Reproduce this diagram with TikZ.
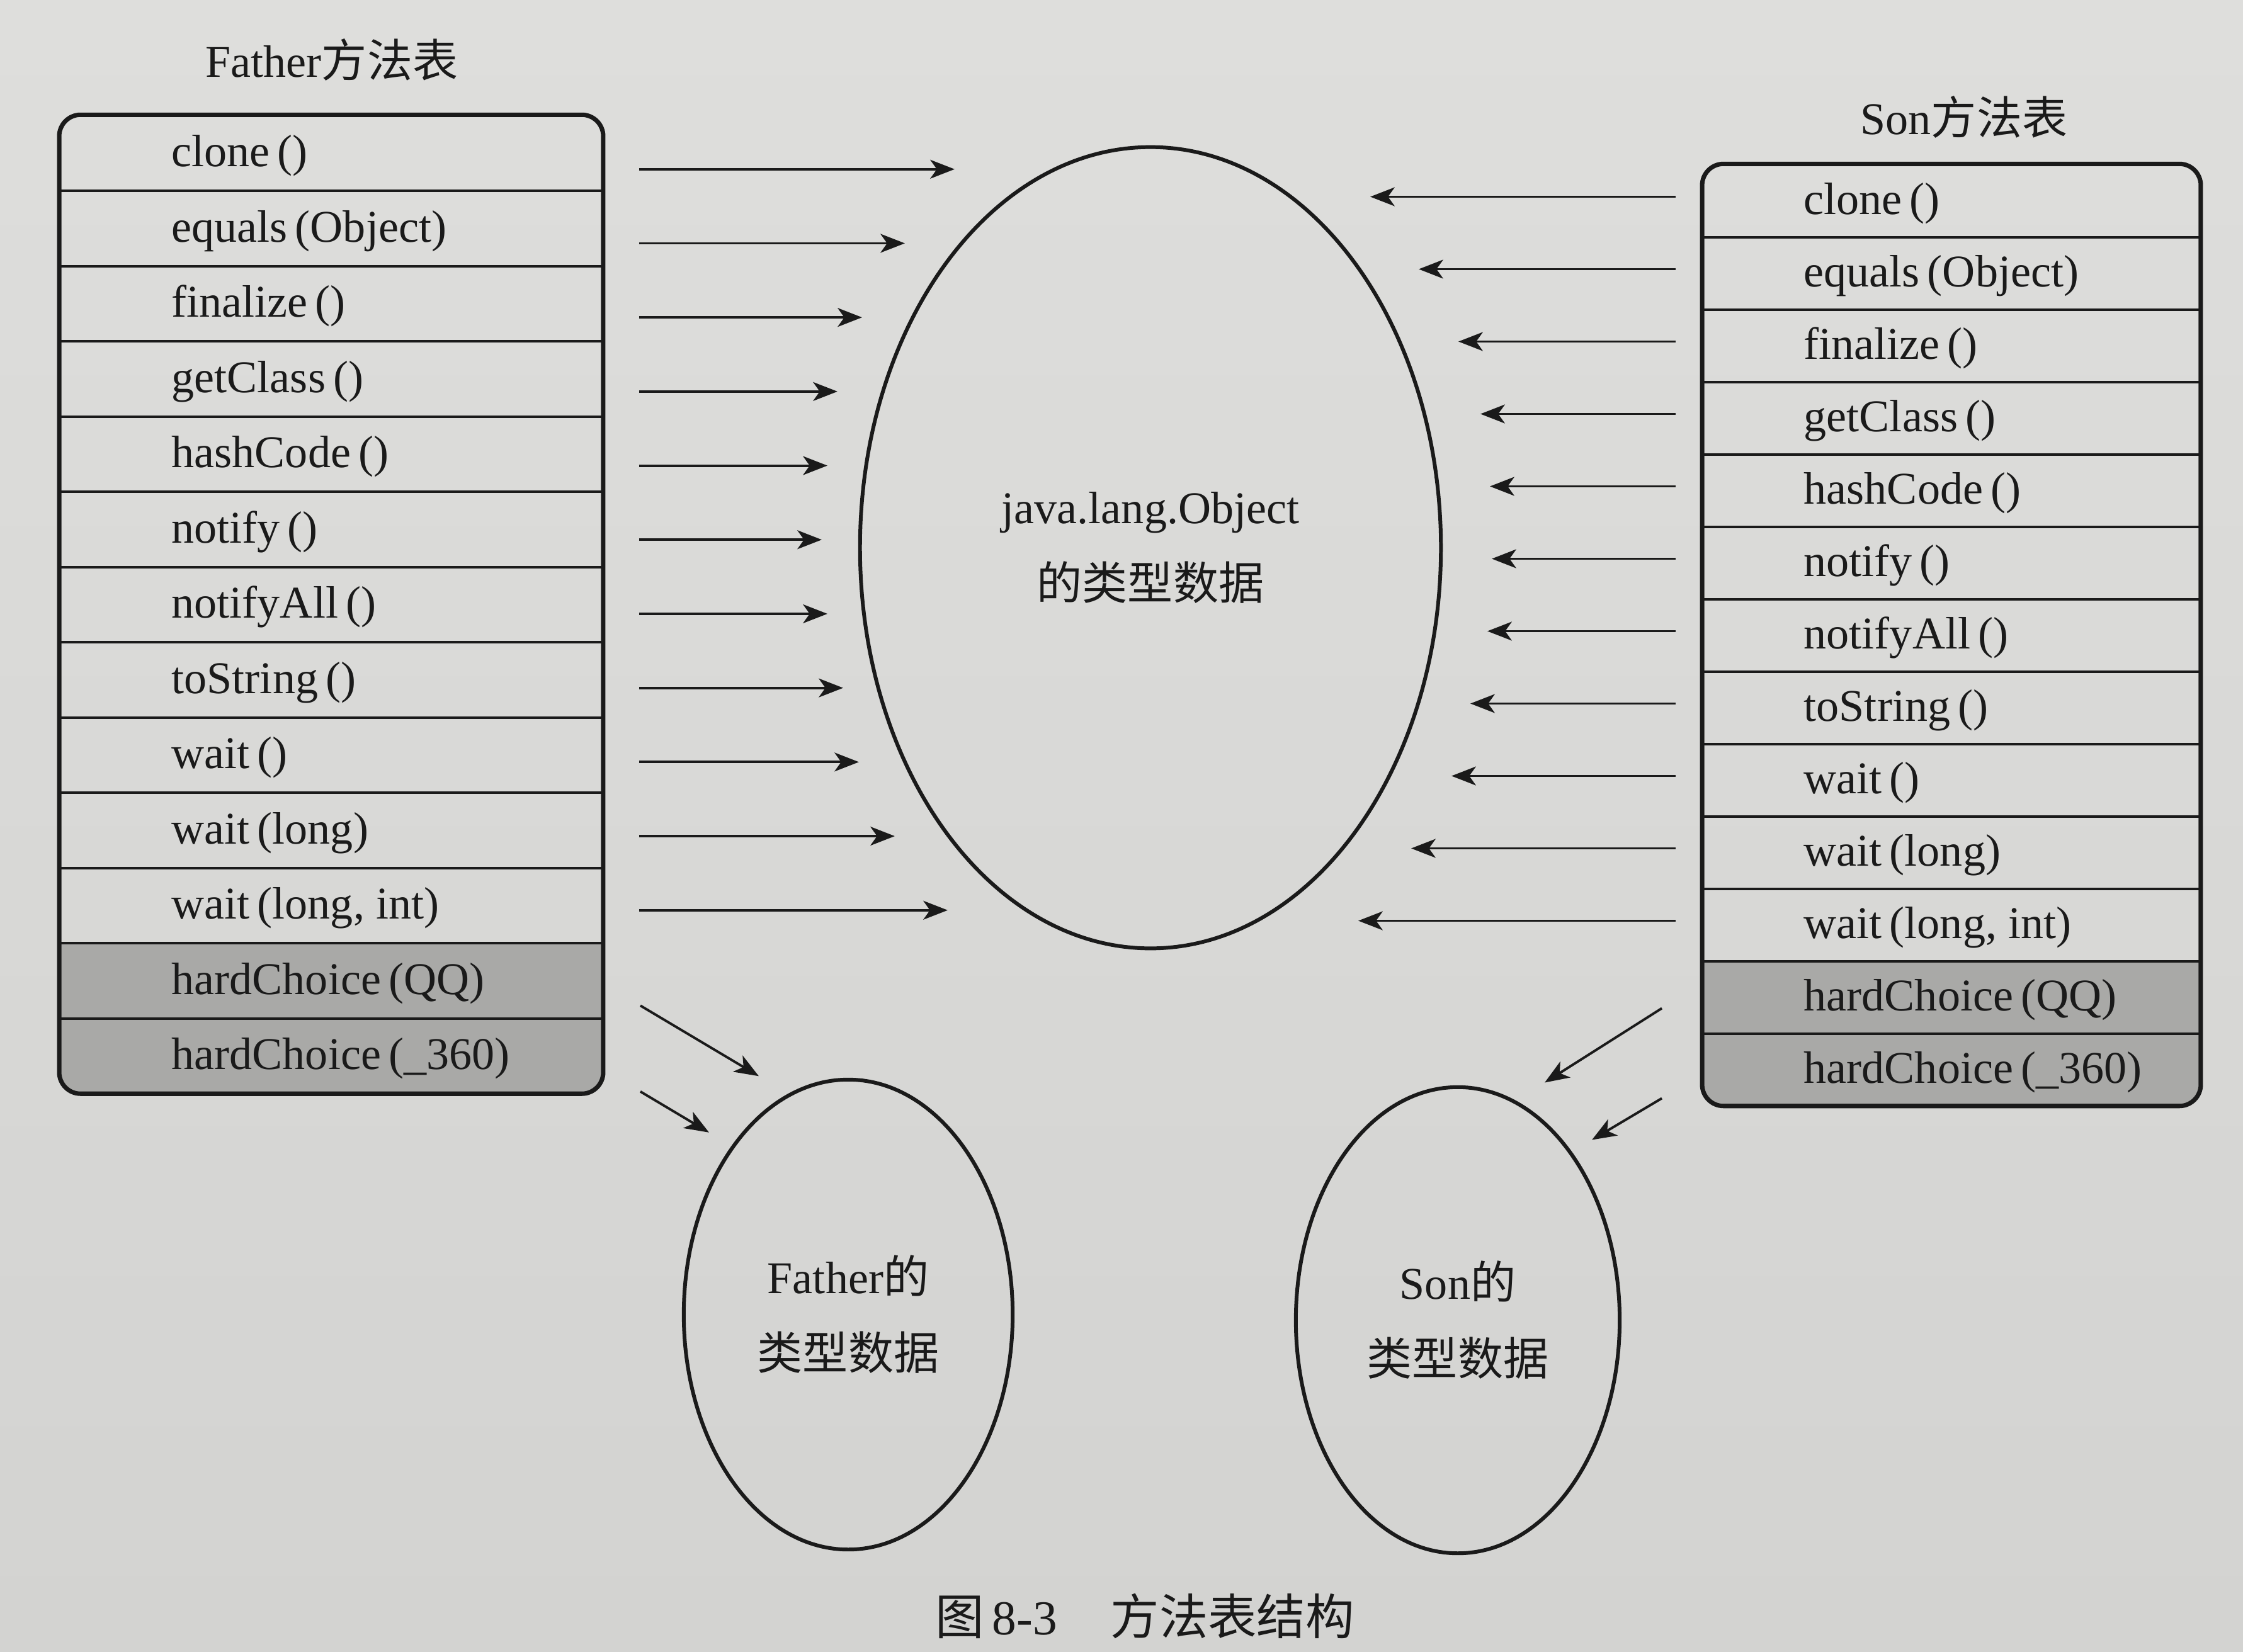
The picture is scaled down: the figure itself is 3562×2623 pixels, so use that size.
\documentclass[tikz,border=0pt]{standalone}
\usepackage{fontspec}
\setmainfont{Liberation Serif}
\newfontfamily\cjk{Noto Sans CJK SC}
\usetikzlibrary{arrows.meta,calc,shapes.geometric}
\definecolor{paperT}{HTML}{DEDEDC}
\definecolor{paperB}{HTML}{D3D3D1}
\definecolor{inkc}{HTML}{1A1A1A}
\definecolor{shadec}{HTML}{A9A9A7}
\begin{document}
\begin{tikzpicture}[x=0.01cm,y=-0.01cm,
  rowF/.style={minimum width=8.62cm,minimum height=1.195cm,inner sep=0pt,draw=none},
  rowS/.style={minimum width=7.90cm,minimum height=1.15cm,inner sep=0pt,draw=none},
  meth/.style={anchor=base west,inner sep=0pt,text=inkc,font=\fontsize{20.5}{24}\selectfont},
  sepline/.style={draw=inkc,line width=1.2pt},
  outline/.style={draw=inkc,line width=2pt,rounded corners=0.34cm},
  arr/.style={draw=inkc,line width=1.1pt,-{Stealth[length=11pt,width=8.5pt,inset=3pt]}},
  oval/.style={ellipse,draw=inkc,line width=1.7pt,align=center,inner sep=0pt,text=inkc,font=\fontsize{20.5}{34.4}\selectfont},
  titletext/.style={text=inkc,inner sep=0pt,font=\fontsize{20.5}{24}\selectfont}]
\useasboundingbox (0,0) rectangle (3562,2623);
\shade[top color=paperT,bottom color=paperB] (0,0) rectangle (3562,2623);

% ---------- Father table ----------
\node[titletext] (Ftitle) at (527,95) {Father{\cjk 方法表}};
\foreach \i in {1,...,13} \node[rowF] (F\i) at (526,{183+119.5*(\i-0.5)}) {};
\begin{scope}
  \clip[rounded corners=0.34cm] (F1.north west) rectangle (F13.south east);
  \fill[shadec] (F12.north west) rectangle (F13.south east);
\end{scope}
\foreach \i in {1,...,12} \draw[sepline] (F\i.south west) -- (F\i.south east);
\draw[outline] (F1.north west) rectangle (F13.south east);
\foreach \i/\t in {1/{clone\,()},2/{equals\,(Object)},3/{finalize\,()},4/{getClass\,()},
  5/{hashCode\,()},6/{notify\,()},7/{notifyAll\,()},8/{toString\,()},9/{wait\,()},
  10/{wait\,(long)},11/{wait\,(long, int)},12/{hardChoice\,(QQ)},13/{hardChoice\,(\_360)}}
  \node[meth] (Ft\i) at ($(F\i.west)+(178,22)$) {\t};

% ---------- Son table ----------
\node[titletext] (Stitle) at (3119,186) {Son{\cjk 方法表}};
\foreach \i in {1,...,13} \node[rowS] (S\i) at (3099,{261+115*(\i-0.5)}) {};
\begin{scope}
  \clip[rounded corners=0.34cm] (S1.north west) rectangle (S13.south east);
  \fill[shadec] (S12.north west) rectangle (S13.south east);
\end{scope}
\foreach \i in {1,...,12} \draw[sepline] (S\i.south west) -- (S\i.south east);
\draw[outline] (S1.north west) rectangle (S13.south east);
\foreach \i/\t in {1/{clone\,()},2/{equals\,(Object)},3/{finalize\,()},4/{getClass\,()},
  5/{hashCode\,()},6/{notify\,()},7/{notifyAll\,()},8/{toString\,()},9/{wait\,()},
  10/{wait\,(long)},11/{wait\,(long, int)},12/{hardChoice\,(QQ)},13/{hardChoice\,(\_360)}}
  \node[meth] (St\i) at ($(S\i.west)+(161,22)$) {\t};

% ---------- ellipses ----------
\node[oval,minimum width=9.22cm,minimum height=12.72cm] (OBJ) at (1827,870)
  {java.lang.Object\\{\cjk 的类型数据}};
\node[oval,minimum width=5.22cm,minimum height=7.46cm] (FE) at (1347,2088)
  {Father{\cjk 的}\\{\cjk 类型数据}};
\node[oval,minimum width=5.14cm,minimum height=7.40cm] (SE) at (2315,2097)
  {Son{\cjk 的}\\{\cjk 类型数据}};

% ---------- arrows to java.lang.Object ----------
\foreach \i/\d in {1/558,2/479,3/411,4/372,5/356,6/347,7/356,8/381,9/406,10/463,11/547}
  \draw[arr] ($(F\i.east)+(57,{26-1.8*(\i-1)})$) -- ($(F\i.east)+(\d,{26-1.8*(\i-1)})$);
\foreach \i/\d in {1/527,2/450,3/387,4/352,5/337,6/334,7/341,8/368,9/398,10/462,11/546}
  \draw[arr] ($(S\i.west)+(-42,-6)$) -- ($(S\i.west)+(-\d,-6)$);

% ---------- arrows to own type data ----------
\draw[arr] ($(F12.east)+(59,40)$) -- ($(F12.east)+(247,152)$);
\draw[arr] ($(F13.east)+(59,57)$) -- ($(F13.east)+(168,122)$);
\draw[arr] ($(S12.west)+(-64,18)$) -- ($(S12.west)+(-250,136)$);
\draw[arr] ($(S13.west)+(-64,46)$) -- ($(S13.west)+(-175,112)$);

% ---------- caption ----------
\node[titletext,font=\fontsize{22}{26}\selectfont] (cap) at (1818,2567)
  {{\cjk 图}\,8-3\hspace{1.1em}{\cjk 方法表结构}};
\end{tikzpicture}
\end{document}
